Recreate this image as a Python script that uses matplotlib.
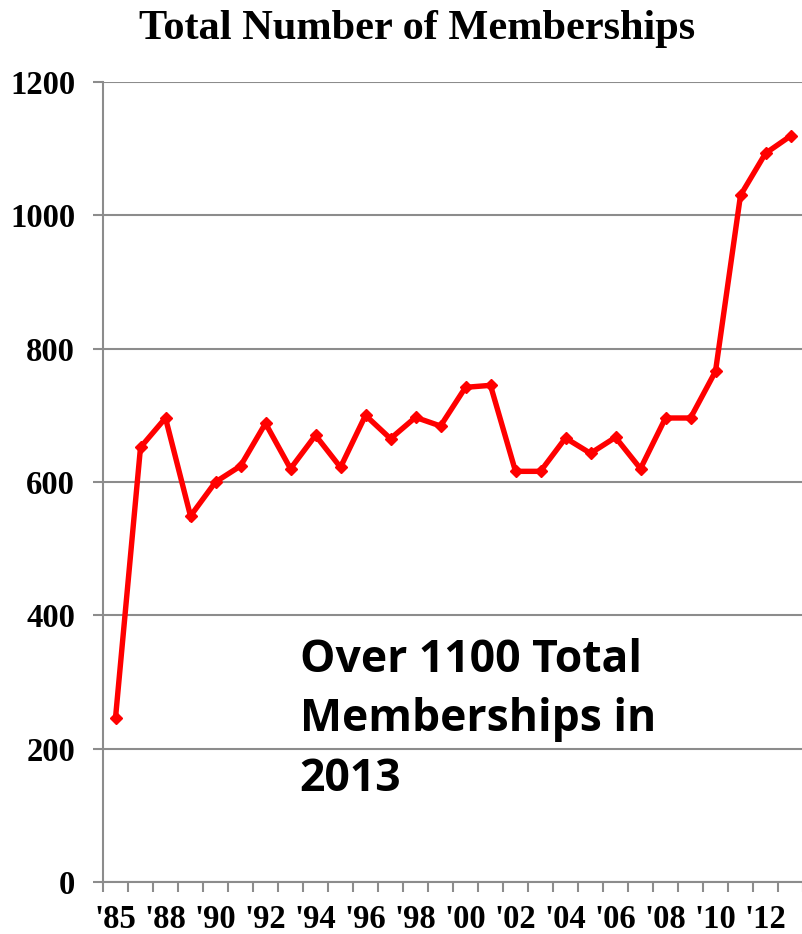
import numpy as np
import matplotlib
matplotlib.use("Agg")
from matplotlib import pyplot as plt
from matplotlib.ticker import FixedLocator, FixedFormatter

# data
years = ["'85", "'87", "'88", "'89", "'90", "'91", "'92", "'93", "'94", "'95",
         "'96", "'97", "'98", "'99", "'00", "'01", "'02", "'03", "'04", "'05",
         "'06", "'07", "'08", "'09", "'10", "'11", "'12", "'13"]
members = [246, 652, 696, 549, 600, 624, 688, 620, 670, 622,
           700, 665, 697, 684, 742, 745, 616, 616, 666, 643,
           667, 620, 696, 696, 766, 1030, 1093, 1119]
yticks = [0, 200, 400, 600, 800, 1000, 1200]
note = "Over 1100 Total\nMemberships in\n2013"

grey = '#8c8c8c'
serif = 'Liberation Serif'

fig = plt.figure(figsize=(8.02, 9.34), dpi=100)
ax = fig.add_axes([103 / 802, 52 / 934, 700 / 802, 800 / 934])

x = np.arange(len(years))
ax.plot(x, members, color='#ff0000', lw=3.9, marker='D', ms=6,
        solid_joinstyle='miter', zorder=3, clip_on=False)

ax.set_ylim(0, 1200)
ax.set_xlim(-0.5, len(years) - 0.5)
ax.set_yticks(yticks)
ax.yaxis.grid(True, color=grey, lw=1.5)
ax.set_axisbelow(True)

# category boundaries get tick marks, every other category gets a label
ax.xaxis.set_minor_locator(FixedLocator(np.arange(-0.5, len(years), 1.0)))
ax.xaxis.set_major_locator(FixedLocator(x[::2]))
ax.xaxis.set_major_formatter(FixedFormatter(years[::2]))
ax.tick_params(axis='x', which='major', length=0, pad=16)
ax.tick_params(axis='x', which='minor', length=7, width=1.5, color=grey)
ax.tick_params(axis='y', length=7, width=1.5, color=grey, pad=13)

for lab in ax.get_xticklabels() + ax.get_yticklabels():
    lab.set_fontfamily(serif)
    lab.set_fontweight('bold')
    lab.set_fontsize(23.5)

for s in ['top', 'right']:
    ax.spines[s].set_visible(False)
for s in ['left', 'bottom']:
    ax.spines[s].set_color(grey)
    ax.spines[s].set_linewidth(1.5)

fig.text(0.52, 0.969, "Total Number of Memberships", ha='center', va='center',
         family=serif, weight='bold', fontsize=30.5)

ax.text(0.281, 0.305, note, transform=ax.transAxes, ha='left', va='top',
        family='Open Sans', weight='bold', fontsize=32, linespacing=1.42)

fig.savefig('out.png', dpi=100)
